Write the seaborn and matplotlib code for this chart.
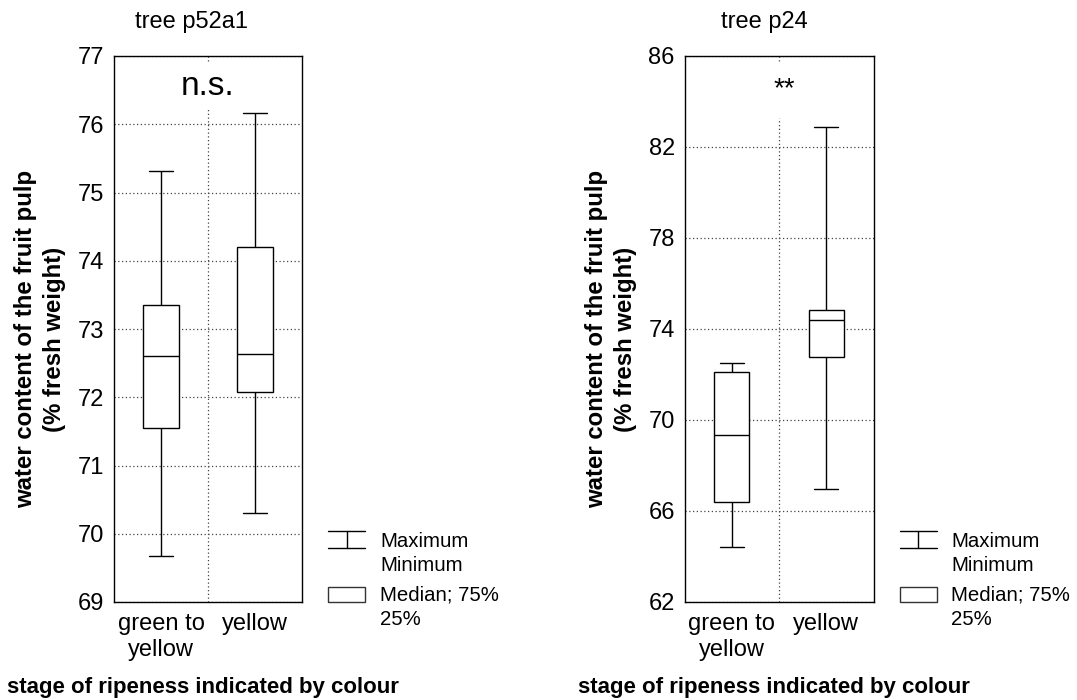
import numpy as np
import pandas as pd
import matplotlib
matplotlib.use("Agg")
import matplotlib.pyplot as plt
from matplotlib.lines import Line2D
from matplotlib.patches import Rectangle
import seaborn as sns

# Ripeness stages (x categories)
stages = ["green to\nyellow", "yellow"]

# Tree p52a1: water content of fruit pulp (% fresh weight)
p52a1_min = [69.68, 70.30]
p52a1_q1 = [71.55, 72.08]
p52a1_median = [72.60, 72.63]
p52a1_q3 = [73.35, 74.20]
p52a1_max = [75.31, 76.17]

# Tree p24
p24_min = [64.42, 66.97]
p24_q1 = [66.41, 72.77]
p24_median = [69.34, 74.40]
p24_q3 = [72.12, 74.85]
p24_max = [72.49, 82.87]

p52a1_ticks = [69, 70, 71, 72, 73, 74, 75, 76, 77]
p24_ticks = [62, 66, 70, 74, 78, 82, 86]

panel_titles = ["tree p52a1", "tree p24"]
significance = ["n.s.", "**"]
ylabel_text = "water content of the fruit pulp\n(% fresh weight)"
xlabel_text = "stage of ripeness indicated by colour"
legend_whisker = "Maximum\nMinimum"
legend_box = "Median; 75%\n25%"


def summary_frame(mins, q1s, meds, q3s, maxs):
    # five ordered values per stage reproduce min/quartiles/max exactly
    rows = []
    for s, a, b, c, d, e in zip(stages, mins, q1s, meds, q3s, maxs):
        for v in (a, b, c, d, e):
            rows.append({"stage": s, "value": v})
    return pd.DataFrame(rows)


df_p52a1 = summary_frame(p52a1_min, p52a1_q1, p52a1_median, p52a1_q3, p52a1_max)
df_p24 = summary_frame(p24_min, p24_q1, p24_median, p24_q3, p24_max)

sns.set_theme(style="white")
plt.rcParams["font.family"] = ["Liberation Sans", "DejaVu Sans"]

W, H = 1077, 700
fig = plt.figure(figsize=(W / 100, H / 100), dpi=100)


def fx(px):
    return px / W


def fy(py):
    return 1 - py / H


ax_top, ax_bot = 56, 602
panels = [
    dict(df=df_p52a1, left=114, right=302, ticks=p52a1_ticks, title_x=191.6,
         sig_x=0.5, sig_y=76.55, sig_size=24, vcut=0.903),
    dict(df=df_p24, left=684.5, right=873.5, ticks=p24_ticks, title_x=764.7,
         sig_x=0.56, sig_y=84.55, sig_size=20, vcut=0.886),
]

grid_kw = dict(color="#444444", linestyle=(0, (1, 2)), linewidth=0.9)

for i, p in enumerate(panels):
    ax = fig.add_axes([fx(p["left"]), fy(ax_bot), fx(p["right"] - p["left"]),
                       (ax_bot - ax_top) / H])
    sns.boxplot(data=p["df"], x="stage", y="value", order=stages, ax=ax,
                width=0.373, whis=(0, 100), color="white", linecolor="black",
                linewidth=1.0, showfliers=False, capwidths=0.25)
    ax.set_xlim(-0.5, 1.5)
    ax.set_ylim(p["ticks"][0], p["ticks"][-1])
    ax.set_yticks(p["ticks"])
    ax.set_xlabel("")
    ax.set_ylabel("")
    ax.yaxis.grid(True, **grid_kw)
    ax.set_axisbelow(True)
    ax.axvline(0.5, ymin=0, ymax=p["vcut"], zorder=0.5, **grid_kw)
    ax.axvline(0.5, ymin=0.99, ymax=1.0, zorder=0.5, **grid_kw)
    for sp in ax.spines.values():
        sp.set_visible(True)
        sp.set_color("black")
        sp.set_linewidth(1.0)
    ax.tick_params(axis="both", length=0, labelsize=17, colors="black")
    ax.tick_params(axis="y", pad=7)
    ax.tick_params(axis="x", pad=8)

    ax.text(p["sig_x"], p["sig_y"], significance[i], ha="center", va="center",
            fontsize=p["sig_size"], color="black")

    fig.text(fx(p["title_x"]), fy(22), panel_titles[i], ha="center",
             va="center", fontsize=17, color="black")

    # y label (two lines, bold, rotated)
    fig.text(fx(p["left"] - 73.5), fy(339), ylabel_text, rotation=90,
             ha="center", va="center", multialignment="center",
             linespacing=1.33, fontsize=17.3, fontweight="bold", color="black")
    # x label
    fig.text(fx(p["left"] - 107), fy(687), xlabel_text, ha="left",
             va="center", fontsize=16, fontweight="bold", color="black")

    # legend glyphs
    gx0 = p["right"] + 26
    gx1 = gx0 + 37
    gxm = (gx0 + gx1) / 2
    for y in (530.7, 547.7):
        fig.add_artist(Line2D([fx(gx0), fx(gx1)], [fy(y), fy(y)],
                              color="black", linewidth=1.0))
    fig.add_artist(Line2D([fx(gxm), fx(gxm)], [fy(530.7), fy(547.7)],
                          color="black", linewidth=1.0))
    fig.add_artist(Rectangle((fx(gx0), fy(602)), fx(37), 14.7 / H,
                             facecolor="white", edgecolor="#333333",
                             linewidth=1.0, transform=fig.transFigure))
    fig.text(fx(p["right"] + 78), fy(553.3), legend_whisker, ha="left",
             va="center", fontsize=14.7, linespacing=1.33, color="black")
    fig.text(fx(p["right"] + 78), fy(607.2), legend_box, ha="left",
             va="center", fontsize=14.7, linespacing=1.33, color="black")

fig.savefig("out.png", dpi=100, facecolor="white")
